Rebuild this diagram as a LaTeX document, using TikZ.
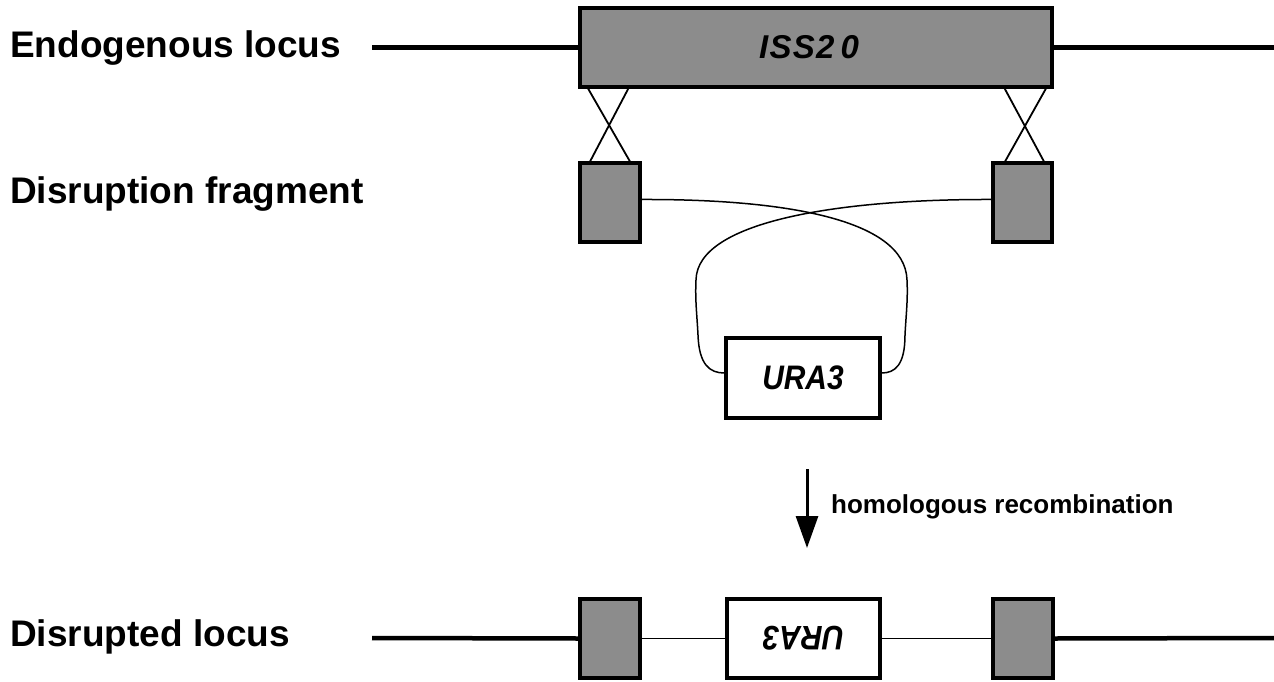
\documentclass[tikz,border=0pt]{standalone}
\usepackage{fontspec}
\setmainfont{Liberation Sans}
\usetikzlibrary{arrows.meta, positioning}

\definecolor{boxgray}{gray}{0.55}

\begin{document}
\begin{tikzpicture}[
    x=1pt, y=-1pt,
    homol/.style={rectangle, draw, line width=3.6pt, fill=boxgray, inner sep=0pt},
    marker/.style={rectangle, draw, line width=3.3pt, fill=white, inner sep=0pt,
        minimum width=154pt, minimum height=80pt},
    genetxt/.style={font=\fontsize{34}{40}\selectfont\bfseries\itshape},
    rowlabel/.style={anchor=base west, inner sep=0pt, font=\fontsize{37}{44}\selectfont\bfseries},
    locus/.style={line width=4.5pt},
    linker/.style={line width=1.5pt},
    xover/.style={line width=1.8pt}
]
    \useasboundingbox (0,0) rectangle (1274,682);

    % row labels
    \node[rowlabel] (endo) at (10,57.5) {Endogenous locus};
    \node[rowlabel] (frag) at (10,203.5) {Disruption fragment};
    \node[rowlabel] (disr) at (10,646) {Disrupted locus};

    % endogenous locus
    \node[homol, minimum width=472pt, minimum height=79pt] (iss) at (816,47.5) {};
    \node[genetxt, font=\fontsize{33}{40}\selectfont\bfseries\itshape] (isstxt) at (809,47.5)
        {\addfontfeature{LetterSpace=4}ISS2\hspace{6pt}0};
    \coordinate (endoL) at (372,47.5);
    \coordinate (endoR) at (1274,47.5);
    \draw[locus] (endoL) -- (iss.west);
    \draw[locus] (iss.east) -- (endoR);

    % disruption fragment
    \node[homol, minimum width=60pt, minimum height=79pt] (lfrag) at (610,202.5) {};
    \node[homol, minimum width=59pt, minimum height=79pt] (rfrag) at (1022.5,202.5) {};
    \node[marker] (ura) at (803,378) {};
    \node[genetxt, xscale=0.88] (uratxt) at (ura.center) {URA3};

    % crossovers
    \draw[xover] ([xshift=10pt]iss.south west) -- ([xshift=-12pt]lfrag.north east);
    \draw[xover] ([xshift=50pt]iss.south west) -- ([xshift=12pt]lfrag.north west);
    \draw[xover] ([xshift=-49pt]iss.south east) -- ([xshift=-10pt]rfrag.north east);
    \draw[xover] ([xshift=-8pt]iss.south east) -- ([xshift=14pt]rfrag.north west);

    % looped marker
    \draw[linker] ([yshift=3pt]lfrag.east) .. controls (780,199) and (905,218) .. (907,280)
        .. controls (908,300) and (906,315) .. (905,335)
        .. controls (905,365) and (895,373) .. ([yshift=5pt]ura.east);
    \draw[linker] ([yshift=3pt]rfrag.west) .. controls (845,199) and (697,220) .. (696,280)
        .. controls (695,300) and (697,315) .. (698,335)
        .. controls (699,365) and (710,373) .. ([yshift=5pt]ura.west);

    % recombination step
    \coordinate (recTop) at (807,469);
    \coordinate (recEnd) at (807,548);
    \draw[line width=3pt, -{Triangle[length=32pt, width=22pt]}] (recTop) -- (recEnd);
    \node[anchor=base west, inner sep=0pt, font=\fontsize{26}{31}\selectfont\bfseries]
        (rectxt) at (831,513) {homologous recombination};

    % disrupted locus
    \node[homol, minimum width=60pt, minimum height=79pt] (lhom) at (610,638.5) {};
    \node[homol, minimum width=60pt, minimum height=79pt] (rhom) at (1023,638.5) {};
    \node[marker, minimum width=153pt, minimum height=79pt] (urainv) at (803.5,638.5) {};
    \node[genetxt, xscale=0.88, rotate=180] (urainvtxt) at (urainv.center) {URA3};
    \coordinate (disrL) at (372,638);
    \coordinate (disrR) at (1274,638);
    \draw[locus] (disrL) -- (lhom.west);
    \draw[linker] (lhom.east) -- (urainv.west);
    \draw[linker] (urainv.east) -- (rhom.west);
    \draw[locus] (rhom.east) -- (disrR);
\end{tikzpicture}
\end{document}
